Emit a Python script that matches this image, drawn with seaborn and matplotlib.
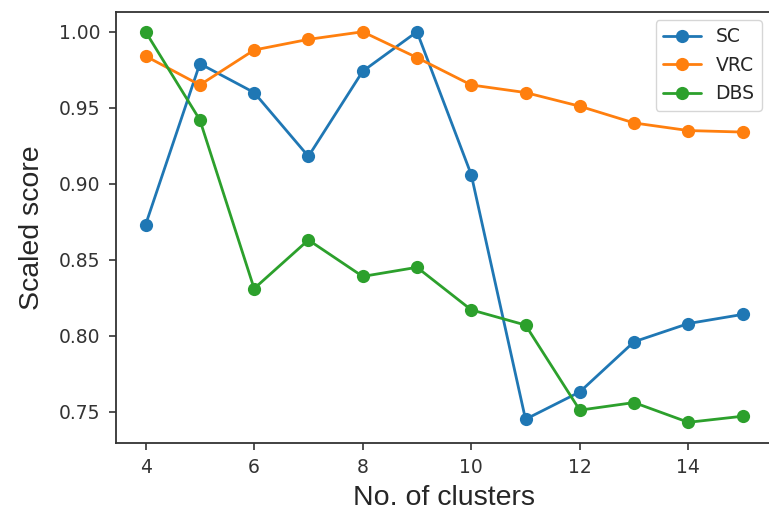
import matplotlib
matplotlib.use("Agg")
import matplotlib.pyplot as plt
import seaborn as sns
import pandas as pd

# Number of clusters evaluated
clusters = [4, 5, 6, 7, 8, 9, 10, 11, 12, 13, 14, 15]

# Scaled clustering-quality scores
sc = [0.873, 0.979, 0.960, 0.918, 0.974, 1.000, 0.906, 0.745, 0.763, 0.796, 0.808, 0.814]
vrc = [0.984, 0.965, 0.988, 0.995, 1.000, 0.983, 0.965, 0.960, 0.951, 0.940, 0.935, 0.934]
dbs = [1.000, 0.942, 0.831, 0.863, 0.839, 0.845, 0.817, 0.807, 0.751, 0.756, 0.743, 0.747]

series_names = ["SC", "VRC", "DBS"]
y_ticks = [0.75, 0.80, 0.85, 0.90, 0.95, 1.00]
x_ticks = [4, 6, 8, 10, 12, 14]

df = pd.DataFrame({
    "clusters": clusters * 3,
    "score": sc + vrc + dbs,
    "metric": [n for n in series_names for _ in clusters],
})

sns.set_style("white")
plt.rcParams["font.family"] = ["DejaVu Sans"]

fig = plt.figure(figsize=(7.69, 5.2), dpi=100)
ax = fig.add_axes([0.1505, 0.1487, 0.854, 0.8276])

palette = dict(zip(series_names, sns.color_palette("tab10", 3)))
sns.lineplot(data=df, x="clusters", y="score", hue="metric", hue_order=series_names,
             palette=palette, marker="o", markersize=9.5, linewidth=2.0,
             markeredgewidth=0, ax=ax)

for line in ax.get_lines():
    line.set_markeredgecolor(line.get_color())

ax.set_xlim(3.45, 15.55)
ax.set_ylim(0.7296, 1.0128)
ax.set_xticks(x_ticks)
ax.set_yticks(y_ticks)
ax.set_yticklabels([f"{v:.2f}" for v in y_ticks])
ax.tick_params(axis="both", labelsize=13.5, length=5, width=1.2, colors="#333333",
               direction="out", bottom=True, left=True, pad=6)

for s in ax.spines.values():
    s.set_linewidth(1.3)
    s.set_color("#333333")

ax.set_xlabel("No. of clusters", fontsize=20.5, family=["Liberation Sans"], labelpad=6)
ax.set_ylabel("Scaled score", fontsize=20.5, family=["Liberation Sans"], labelpad=10)

handles, labels = ax.get_legend_handles_labels()
ax.legend(handles, labels, loc="upper right", bbox_to_anchor=(762 / 769, 500 / 520),
          bbox_transform=fig.transFigure, borderaxespad=0, fontsize=13.5,
          frameon=True, framealpha=0.8, edgecolor="#cccccc", fancybox=True,
          handlelength=2.0, title=None)

fig.savefig("out.png", dpi=100)
